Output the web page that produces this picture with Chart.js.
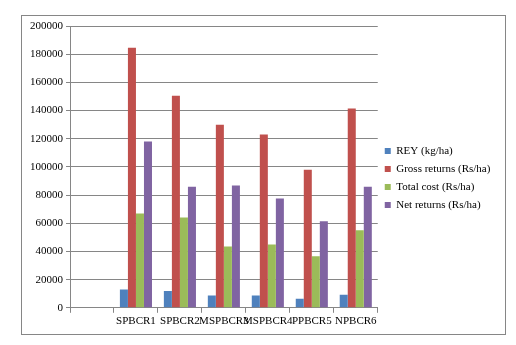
<!DOCTYPE html>
<html>
<head>
<meta charset="utf-8">
<script src="https://cdn.jsdelivr.net/npm/chart.js@4/dist/chart.umd.min.js"></script>
<style>
  body { margin: 0; background: #fff; }
  #frame { position: absolute; left: 21px; top: 15px; width: 483px; height: 318px; border: 1px solid #868686; }
  #chart { display: block; }
</style>
</head>
<body>
<div id="frame"><canvas id="chart" width="483" height="318"></canvas></div>
<script>
// categories (first slot is empty in the source chart)
const categories = ['', 'SPBCR1', 'SPBCR2', 'MSPBCR3', 'MSPBCR4', 'PPBCR5', 'NPBCR6'];

// series values
const reyValues = [null, 13000, 12000, 8700, 8700, 6500, 9300];
const grossValues = [null, 184500, 150500, 130000, 123000, 98000, 141500];
const costValues = [null, 67000, 64000, 43500, 45000, 36500, 55000];
const netValues = [null, 118000, 86000, 86800, 77500, 61500, 86000];

const seriesNames = ['REY (kg/ha)', 'Gross returns (Rs/ha)', 'Total cost (Rs/ha)', 'Net returns (Rs/ha)'];
const seriesColors = ['#4F81BD', '#C0504D', '#9BBB59', '#8064A2'];

const yMin = 0;
const yMax = 200000;
const yStep = 20000;

const axisGray = '#868686';
const fontFamily = '"Liberation Serif", "Times New Roman", serif';

Chart.defaults.font.family = fontFamily;
Chart.defaults.font.size = 11;
Chart.defaults.color = '#000';

const ctx = document.getElementById('chart').getContext('2d');
const allValues = [reyValues, grossValues, costValues, netValues];

new Chart(ctx, {
  type: 'bar',
  data: {
    labels: categories,
    datasets: allValues.map((vals, i) => ({
      label: seriesNames[i],
      data: vals,
      backgroundColor: seriesColors[i],
      borderWidth: 0,
      categoryPercentage: 0.73,
      barPercentage: 1
    }))
  },
  options: {
    responsive: false,
    animation: false,
    layout: { padding: { top: 10, right: 10, bottom: 4, left: 4 } },
    scales: {
      x: {
        grid: { drawOnChartArea: false, drawTicks: true, tickLength: 5, color: axisGray, offset: true },
        border: { color: axisGray },
        ticks: { autoSkip: false, maxRotation: 0, minRotation: 0, padding: 2 }
      },
      y: {
        min: yMin,
        max: yMax,
        afterFit: function (scale) { scale.width = 44; },
        grid: { color: axisGray, tickLength: 4 },
        border: { color: axisGray },
        ticks: { stepSize: yStep, padding: 3, callback: v => String(v) }
      }
    },
    plugins: {
      legend: {
        position: 'right',
        align: 'center',
        labels: { boxWidth: 6, boxHeight: 6, padding: 7, font: { size: 11 } }
      },
      tooltip: { enabled: false }
    }
  }
});
</script>
</body>
</html>
